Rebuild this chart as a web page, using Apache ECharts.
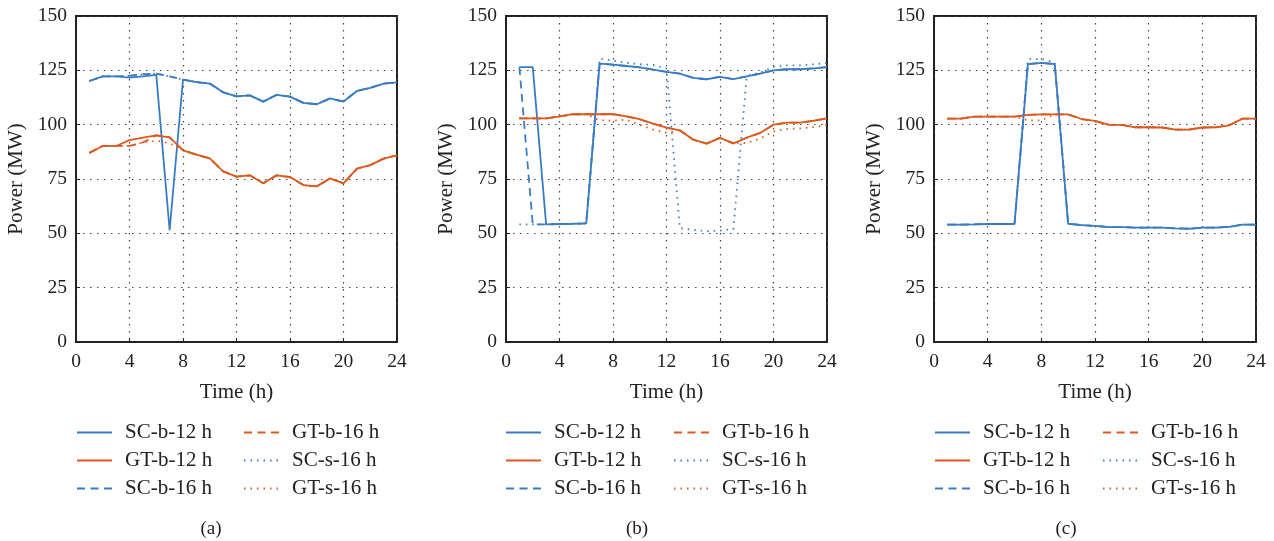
<!DOCTYPE html>
<html>
<head>
<meta charset="utf-8">
<script src="https://cdn.jsdelivr.net/npm/echarts@6/dist/echarts.min.js"></script>
<style>html,body{margin:0;padding:0;background:#fff;}#c{width:1274px;height:541px;}</style>
</head>
<body>
<div id="c"></div>
<script>
var hours = [1,2,3,4,5,6,7,8,9,10,11,12,13,14,15,16,17,18,19,20,21,22,23,24];
var xTicks = [0,4,8,12,16,20,24];
var yTicks = [0,25,50,75,100,125,150];
var seriesNames = ['SC-b-12 h','GT-b-12 h','SC-b-16 h','GT-b-16 h','SC-s-16 h','GT-s-16 h'];
var captions = ['(a)','(b)','(c)'];

// Panel (a)
var a_SC_b12 = [120.1,122.2,122.2,121.6,122.2,122.9,51.4,120.7,119.6,118.9,114.9,113.0,113.5,110.6,113.7,112.9,110.0,109.4,112.1,110.6,115.5,116.9,118.9,119.5];
var a_GT_b12 = [87.0,90.2,90.2,92.9,94.0,95.1,94.2,88.2,86.2,84.5,78.5,76.1,76.7,73.0,76.7,75.9,72.2,71.6,75.3,73.0,79.8,81.4,84.4,85.9];
var a_SC_b16 = [120.1,122.2,122.2,122.5,123.2,123.5,122.2,120.7,119.6,118.9,114.9,113.0,113.5,110.6,113.7,112.9,110.0,109.4,112.1,110.6,115.5,116.9,118.9,119.5];
var a_GT_b16 = [87.0,90.2,90.2,90.2,91.8,95.1,94.2,88.2,86.2,84.5,78.5,76.1,76.7,73.0,76.7,75.9,72.2,71.6,75.3,73.0,79.8,81.4,84.4,85.9];
var a_SC_s16 = [120.1,122.2,122.2,122.5,123.2,123.5,122.2,120.7,119.6,118.9,114.9,113.0,113.5,110.6,113.7,112.9,110.0,109.4,112.1,110.6,115.5,116.9,118.9,119.5];
var a_GT_s16 = [87.0,90.2,90.2,90.2,91.8,92.6,91.5,88.2,86.2,84.5,78.5,76.1,76.7,73.0,76.7,75.9,72.2,71.6,75.3,73.0,79.8,81.4,84.4,85.9];

// Panel (b)
var b_SC_b12 = [126.5,126.5,54.1,54.3,54.4,54.6,128.1,127.6,127.0,126.4,125.3,124.3,123.5,121.5,120.9,122.0,121.0,122.2,123.5,125.0,125.5,125.5,125.9,126.5];
var b_GT_b12 = [102.9,102.9,102.9,103.8,104.8,104.8,104.8,104.9,103.8,102.5,100.5,98.6,97.4,93.1,91.3,93.9,91.4,94.0,96.2,100.0,100.9,100.9,101.8,102.9];
var b_SC_b16 = [126.5,54.1,54.1,54.3,54.4,54.6,128.1,127.6,127.0,126.4,125.3,124.3,123.5,121.5,120.9,122.0,121.0,122.2,123.5,125.0,125.5,125.5,125.9,126.5];
var b_GT_b16 = [102.9,102.9,102.9,103.8,104.8,104.8,104.8,104.9,103.8,102.5,100.5,98.6,97.4,93.1,91.3,93.9,91.4,94.0,96.2,100.0,100.9,100.9,101.8,102.9];
var b_SC_s16 = [54.1,54.1,54.1,54.3,54.4,54.6,130.4,129.5,128.5,127.8,127.5,125.8,52.4,51.6,51.0,51.2,52.0,122.4,124.0,126.5,127.3,127.3,127.8,128.4];
var b_GT_s16 = [102.9,102.9,102.9,103.8,104.8,104.8,102.0,101.8,102.3,100.0,97.7,96.3,97.4,93.1,91.3,93.9,91.4,91.6,93.6,96.9,98.0,98.3,98.9,99.8];

// Panel (c)
var c_SC_b12 = [54.0,54.0,54.1,54.3,54.3,54.3,127.9,128.4,127.9,54.4,53.8,53.4,52.9,52.9,52.6,52.6,52.6,52.3,52.1,52.6,52.6,53.0,54.0,54.0];
var c_GT_b12 = [102.8,102.8,103.7,103.7,103.7,103.7,104.5,104.7,104.7,104.7,102.6,101.7,100.0,99.9,98.8,98.8,98.7,97.7,97.7,98.7,98.8,99.7,102.8,102.8];
var c_SC_b16 = [54.0,54.0,54.1,54.3,54.3,54.3,127.9,128.4,127.9,54.4,53.8,53.4,52.9,52.9,52.6,52.6,52.6,52.3,52.1,52.6,52.6,53.0,54.0,54.0];
var c_GT_b16 = [102.8,102.8,103.7,103.7,103.7,103.7,104.5,104.7,104.7,104.7,102.6,101.7,100.0,99.9,98.8,98.8,98.7,97.7,97.7,98.7,98.8,99.7,102.8,102.8];
var c_SC_s16 = [54.0,54.0,54.1,54.3,54.3,54.3,130.1,130.2,128.6,54.4,53.8,53.4,52.9,52.9,52.6,52.6,52.6,52.3,52.1,52.6,52.6,53.0,54.0,54.0];
var c_GT_s16 = [102.8,102.8,103.7,103.7,103.7,103.7,102.0,102.0,104.7,104.7,102.6,101.7,100.0,99.9,98.8,98.8,98.7,97.7,97.7,98.7,98.8,99.7,102.8,102.8];

var panels = [
  [a_SC_b12,a_GT_b12,a_SC_b16,a_GT_b16,a_SC_s16,a_GT_s16],
  [b_SC_b12,b_GT_b12,b_SC_b16,b_GT_b16,b_SC_s16,b_GT_s16],
  [c_SC_b12,c_GT_b12,c_SC_b16,c_GT_b16,c_SC_s16,c_GT_s16]
];

var FONT = 'Liberation Serif';
var BLUE = '#3a7cc4', ORANGE = '#dc5a1e';
var colors = [BLUE, ORANGE, BLUE, ORANGE, BLUE, ORANGE];
var types = ['solid','solid',[8,5.5],[8,5.5],[1.5,5],[1.5,5]];

var gridLefts = [76, 506, 934];
var gridWidths = [321, 321, 322];
var legendLefts = [[76, 243], [505, 673], [934, 1102]];
var captionX = [206, 632, 1061];

var grids = [], xAxes = [], yAxes = [], series = [], legends = [], titles = [];
for (var p = 0; p < 3; p++) {
  grids.push({left: gridLefts[p], top: 16, width: gridWidths[p], height: 326, show: true, borderColor: '#222', borderWidth: 2, backgroundColor: 'transparent'});
  xAxes.push({
    gridIndex: p, type: 'value', min: 0, max: 24, interval: 4,
    name: 'Time (h)', nameLocation: 'middle', nameGap: 40,
    nameTextStyle: {fontFamily: FONT, fontSize: 21, color: '#222'},
    axisLine: {show: true, lineStyle: {color: '#222', width: 2}},
    axisTick: {show: true, inside: true, length: 4, lineStyle: {color: '#222'}},
    axisLabel: {fontFamily: FONT, fontSize: 19.5, color: '#222', margin: 10},
    splitLine: {show: true, lineStyle: {color: '#444', type: [1.5, 5.5], width: 1.2}}
  });
  yAxes.push({
    gridIndex: p, type: 'value', min: 0, max: 150, interval: 25,
    name: 'Power (MW)', nameLocation: 'middle', nameGap: 49,
    nameTextStyle: {fontFamily: FONT, fontSize: 21, color: '#222'},
    axisLine: {show: true, lineStyle: {color: '#222', width: 2}},
    axisTick: {show: true, inside: true, length: 4, lineStyle: {color: '#222'}},
    axisLabel: {fontFamily: FONT, fontSize: 19.5, color: '#222', margin: 9},
    splitLine: {show: true, lineStyle: {color: '#444', type: [1.5, 5.5], width: 1.2}}
  });
  for (var s = 0; s < 6; s++) {
    var vals = panels[p][s];
    series.push({
      name: seriesNames[s], type: 'line', xAxisIndex: p, yAxisIndex: p,
      data: hours.map(function (h, i) { return [h, vals[i]]; }),
      symbol: 'none', showSymbol: false, silent: true,
      lineStyle: {color: colors[s], width: 1.8, type: types[s]},
      itemStyle: {color: colors[s]}
    });
  }
  for (var col = 0; col < 2; col++) {
    legends.push({
      orient: 'vertical', left: legendLefts[p][col], top: 422, padding: 0,
      itemWidth: 35, itemHeight: 14, itemGap: 7,
      data: seriesNames.slice(col * 3, col * 3 + 3),
      itemStyle: {opacity: 0, borderWidth: 0},
      textStyle: {fontFamily: FONT, fontSize: 21, color: '#222', lineHeight: 21, padding: [0, 0, 0, 8]},
      selectedMode: false
    });
  }
  titles.push({text: captions[p], left: captionX[p], top: 515, textAlign: 'center',
    textStyle: {fontFamily: FONT, fontSize: 19, fontWeight: 'normal', color: '#222'}});
}

var chart = echarts.init(document.getElementById('c'), null, {renderer: 'canvas'});
chart.setOption({
  animation: false,
  backgroundColor: '#fff',
  title: titles,
  grid: grids,
  xAxis: xAxes,
  yAxis: yAxes,
  legend: legends,
  series: series
});
</script>
</body>
</html>
